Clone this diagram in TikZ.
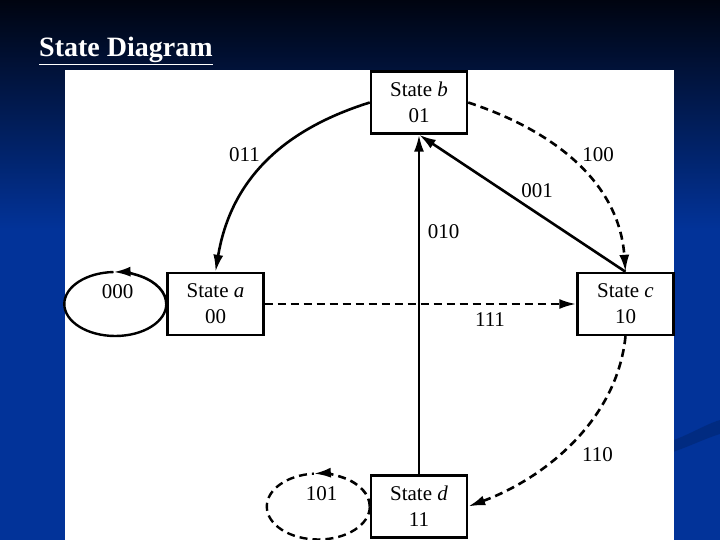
\documentclass[tikz,border=0pt]{standalone}
\usepackage{fontspec}
\setmainfont{Liberation Serif}
\usetikzlibrary{arrows.meta}
\definecolor{slidetop}{HTML}{000410}
\definecolor{slideblue}{HTML}{023399}
\newcommand*{\mytextstyle}{\fontsize{21}{26}\selectfont\color{black}}
\newcommand{\loopellipse}[5]{%
% start point, x radius, y radius, angle of the tip, options
  \draw[#5, trans] (#1) arc[start angle=0, end angle=#4,
    x radius=#2, y radius=#3];
  \draw[#5] (#1) arc[start angle=0, end angle=#4+360,
    x radius=#2, y radius=#3];
}
\tikzset{
  statebox/.style = {draw, line width=2.4pt, fill=white, align=center,
    minimum width=96pt, minimum height=62pt, inner sep=0pt,
    font=\mytextstyle},
  edgelabel/.style = {inner sep=0pt, font=\mytextstyle},
  trans/.style = {line width=2.6pt, -{Latex[length=17pt, width=10pt]}},
  dashline/.style = {dash pattern=on 8pt off 5pt},
}

\begin{document}
\begin{tikzpicture}[x=1pt, y=-1pt, line width=2.4pt]
  \useasboundingbox (0,0) rectangle (720,540);
  % slide background
  \fill[slideblue] (0,0) rectangle (720,540);
  \shade[top color=slidetop, bottom color=slideblue] (0,0) rectangle (720,230);
  \fill[black!60!slideblue, opacity=.25] (640,450) .. controls (680,442) and (700,426) .. (720,420)
    -- (720,434) .. controls (700,440) and (680,452) .. (640,462) -- cycle;
  \node[anchor=base west, inner sep=0pt, text=white,
    font=\fontsize{28}{32}\selectfont\bfseries] (title) at (38,57)
    {\underline{State Diagram}};
  % white panel
  \fill[white] (65,70) rectangle (674,540);

  \node[statebox] (sa) at (215.5,304) {State \textit{a}\\00};
  \node[statebox] (sb) at (419,102.5) {State \textit{b}\\01};
  \node[statebox] (sc) at (625.5,304) {State \textit{c}\\10};
  \node[statebox] (sd) at (419,506.5) {State \textit{d}\\11};

  \draw[trans] (sb.west) .. controls (285,129) and (231,178) .. (sa.north);
  \draw[trans, dashline] (sb.east) .. controls (552,130) and (619,181) .. (sc.north);
  \draw[trans] (sc.north) -- (sb.south);
  \draw[trans] (sd.north) -- (sb.south);
  \draw[trans, dashline] (sa.east) -- (sc.west);
  \draw[trans, dashline] (sc.south) .. controls (617,420) and (545,478) .. (sd.east);
  \loopellipse{sa.west}{51}{32}{-92}{}
  \loopellipse{sd.west}{51.5}{33}{-95}{dashline}

  \node[edgelabel] (l011) at (244.5,155) {011};
  \node[edgelabel] (l100) at (598,155) {100};
  \node[edgelabel] (l001) at (537,190.5) {001};
  \node[edgelabel] (l010) at (443.5,231.5) {010};
  \node[edgelabel] (l111) at (490,320) {111};
  \node[edgelabel] (l110) at (597.5,455) {110};
  \node[edgelabel] (l000) at (117.5,291.5) {000};
  \node[edgelabel] (l101) at (321.5,493.5) {101};
\end{tikzpicture}
\end{document}
